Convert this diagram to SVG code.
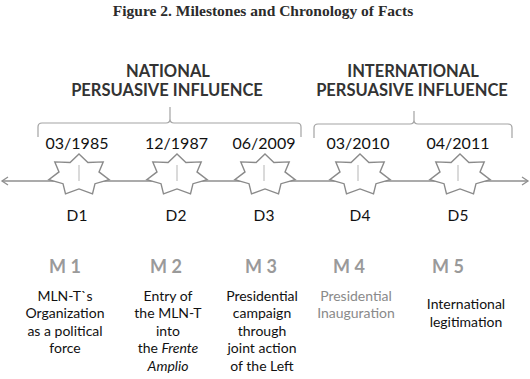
<svg xmlns="http://www.w3.org/2000/svg" width="530" height="379" viewBox="0 0 530 379">
<style>
.title{font-family:"Liberation Serif",serif;font-weight:bold;font-size:15.5px;fill:#2b2b2b;text-anchor:middle}
.hdr{font-family:Lato,"Liberation Sans",sans-serif;font-weight:bold;font-size:16.5px;fill:#333;text-anchor:middle}
.date{font-family:Lato,"Liberation Sans",sans-serif;font-size:16px;fill:#111;text-anchor:middle}
.dl{font-family:Lato,"Liberation Sans",sans-serif;font-size:15.5px;fill:#111;text-anchor:middle}
.ml{font-family:Lato,"Liberation Sans",sans-serif;font-weight:bold;font-size:18px;fill:#9a9a9a;text-anchor:middle}
.desc{font-family:Lato,"Liberation Sans",sans-serif;font-size:14px;fill:#111;text-anchor:middle}
.grey{fill:#8a8a8a}
.brace{fill:none;stroke:#a3a3a3;stroke-width:1.2}
.axis{fill:none;stroke:#8f8f8f;stroke-width:1.3}
.star{fill:#fff;stroke:#8a8a8a;stroke-width:1.4;stroke-linejoin:miter}
.tick{stroke:#c2c2c2;stroke-width:1.2}
</style>
<defs>
<marker id="chev" viewBox="-8 -5 10 10" markerWidth="10" markerHeight="10" refX="0" refY="0" orient="auto-start-reverse" markerUnits="userSpaceOnUse">
<path d="M-6,-4 L0,0 L-6,4" fill="none" stroke="#8f8f8f" stroke-width="1.3"/>
</marker>
<polygon id="star7" points="0,-21 8.9,-12.5 24.2,-13.1 20,-3.1 30.2,4.7 16,8.7 13.5,18.9 0,13.9 -13.5,18.9 -16,8.7 -30.2,4.7 -20,-3.1 -24.2,-13.1 -8.9,-12.5"/>
</defs>

<text class="title" x="263" y="16">Figure 2. Milestones and Chronology of Facts</text>

<g id="national">
<text class="hdr" x="168" y="77">NATIONAL</text>
<text class="hdr" x="167" y="96">PERSUASIVE INFLUENCE</text>
</g>
<g id="international">
<text class="hdr" x="413" y="77">INTERNATIONAL</text>
<text class="hdr" x="412" y="96">PERSUASIVE INFLUENCE</text>
</g>

<g id="connectors">
<path class="brace" d="M38,137 L38,127 Q38,123 42,123 L166,123 Q170,123 170,119 L170,107 M170,119 Q170,123 174,123 L297,123 Q301,123 301,127 L301,137"/>
<path class="brace" d="M314,138 L314,128 Q314,124 318,124 L410,124 Q414,124 414,120 L414,111 M414,120 Q414,124 418,124 L508,124 Q512,124 512,128 L512,138"/>
<line class="axis" x1="2" y1="181" x2="528" y2="181" marker-start="url(#chev)" marker-end="url(#chev)"/>
</g>

<g id="D1">
<text class="date" x="77" y="149">03/1985</text>
<use href="#star7" class="star" x="79" y="175"/>
<line class="tick" x1="79" y1="165" x2="79" y2="181"/>
<text class="dl" x="77" y="221">D1</text>
<text class="ml" x="65" y="273">M 1</text>
<text class="desc" x="65" y="300.5">MLN-T`s</text>
<text class="desc" x="65" y="318">Organization</text>
<text class="desc" x="65" y="335.6">as a political</text>
<text class="desc" x="65" y="353.2">force</text>
</g>

<g id="D2">
<text class="date" x="176.5" y="149">12/1987</text>
<use href="#star7" class="star" x="177" y="175"/>
<line class="tick" x1="177" y1="165" x2="177" y2="181"/>
<text class="dl" x="176" y="221">D2</text>
<text class="ml" x="166" y="273">M 2</text>
<text class="desc" x="168" y="300.5">Entry of</text>
<text class="desc" x="168" y="318">the MLN-T</text>
<text class="desc" x="168" y="335.6">into</text>
<text class="desc" x="168" y="353.2">the <tspan font-style="italic">Frente</tspan></text>
<text class="desc" x="168" y="370.8" font-style="italic">Amplio</text>
</g>

<g id="D3">
<text class="date" x="264" y="149">06/2009</text>
<use href="#star7" class="star" x="265" y="175"/>
<line class="tick" x1="264" y1="165" x2="264" y2="181"/>
<text class="dl" x="264" y="221">D3</text>
<text class="ml" x="261" y="273">M 3</text>
<text class="desc" x="262" y="300.5">Presidential</text>
<text class="desc" x="262" y="318">campaign</text>
<text class="desc" x="262" y="335.6">through</text>
<text class="desc" x="262" y="353.2">joint action</text>
<text class="desc" x="262" y="370.8">of the Left</text>
</g>

<g id="D4">
<text class="date" x="358" y="149">03/2010</text>
<use href="#star7" class="star" x="360" y="175"/>
<line class="tick" x1="358" y1="165" x2="358" y2="181"/>
<text class="dl" x="360" y="221">D4</text>
<text class="ml" x="349" y="273">M 4</text>
<text class="desc grey" x="356" y="300.5">Presidential</text>
<text class="desc grey" x="356" y="318">Inauguration</text>
</g>

<g id="D5">
<text class="date" x="458" y="149">04/2011</text>
<use href="#star7" class="star" x="460" y="175"/>
<line class="tick" x1="458" y1="165" x2="458" y2="181"/>
<text class="dl" x="458" y="221">D5</text>
<text class="ml" x="448" y="273">M 5</text>
<text class="desc" x="466" y="309">International</text>
<text class="desc" x="466" y="326.6">legitimation</text>
</g>
</svg>
